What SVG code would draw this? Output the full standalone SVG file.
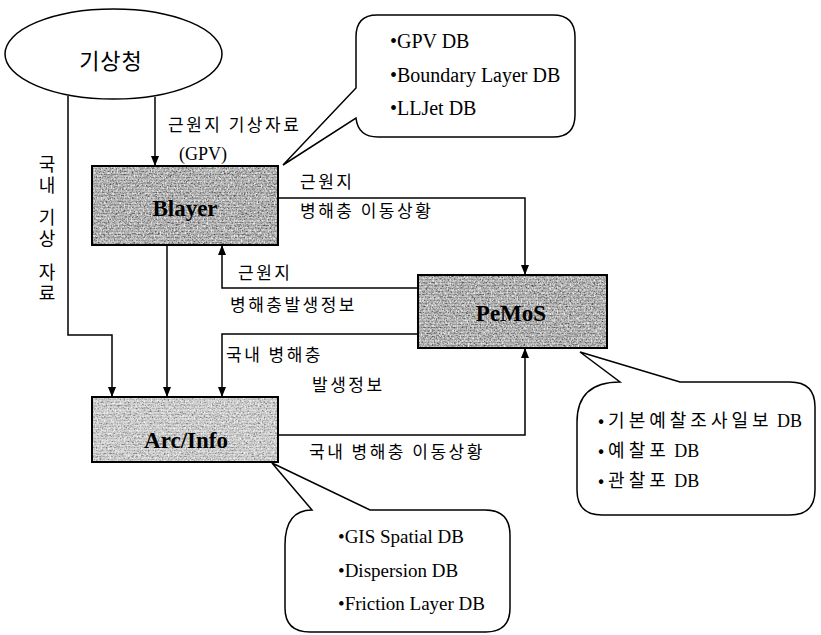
<svg xmlns="http://www.w3.org/2000/svg" width="821" height="635" viewBox="0 0 821 635">
<style>
.ln{fill:none;stroke:#000;stroke-width:1.5}
.ko{font-family:"Noto Sans CJK KR","Noto Sans",sans-serif;font-size:17px;letter-spacing:2.5px;fill:#000}
.se{font-family:"Liberation Serif","Times New Roman",serif;fill:#000}
.nd{font-family:"Liberation Serif","Times New Roman",serif;font-size:23px;font-weight:bold;text-anchor:middle;fill:#000}
.box{stroke:#000;stroke-width:2}
.bub{fill:#fff;stroke:#000;stroke-width:1.5}
.bk{font-family:"Noto Sans CJK KR",sans-serif;letter-spacing:4px}
.vt{font-family:"Noto Sans CJK KR",sans-serif;font-size:18px;letter-spacing:3px;writing-mode:tb;text-anchor:middle;fill:#000}
</style>
<defs>
<marker id="ar" markerWidth="10" markerHeight="10" refX="9" refY="5" orient="auto" markerUnits="userSpaceOnUse">
<path d="M0,1 L10,5 L0,9 Z" fill="#000"/>
</marker>
<filter id="grain" x="0" y="0" width="100%" height="100%">
<feTurbulence type="fractalNoise" baseFrequency="0.5 0.9" numOctaves="2" seed="7" result="n"/>
<feColorMatrix in="n" type="matrix" values="0 0 0 0 0  0 0 0 0 0  0 0 0 0 0  3 0 0 0 -1.45" result="a"/>
<feComposite in="a" in2="SourceAlpha" operator="in"/>
</filter>
<filter id="white" x="0" y="0" width="100%" height="100%">
<feTurbulence type="fractalNoise" baseFrequency="0.7 0.4" numOctaves="2" seed="21" result="n"/>
<feColorMatrix in="n" type="matrix" values="0 0 0 0 1  0 0 0 0 1  0 0 0 0 1  3 0 0 0 -1.4" result="a"/>
<feComposite in="a" in2="SourceAlpha" operator="in"/>
</filter>
<pattern id="stripes" width="6" height="3" patternUnits="userSpaceOnUse">
<rect width="6" height="3" fill="#b8b8b8"/>
<rect y="0" width="6" height="1" fill="#9c9c9c"/>
</pattern>
<pattern id="stripesL" width="6" height="3" patternUnits="userSpaceOnUse">
<rect width="6" height="3" fill="#d2d2d2"/>
<rect y="0" width="6" height="1" fill="#bdbdbd"/>
</pattern>
</defs>

<g id="connectors">
<path class="ln" d="M155,97 V165" marker-end="url(#ar)"/>
<path class="ln" d="M68,96 V335 H112 V396" marker-end="url(#ar)"/>
<path class="ln" d="M167,245 V396" marker-end="url(#ar)"/>
<path class="ln" d="M418,288 H222 V246" marker-end="url(#ar)"/>
<path class="ln" d="M418,334 H222 V396" marker-end="url(#ar)"/>
<path class="ln" d="M278,198 H525 V274" marker-end="url(#ar)"/>
<path class="ln" d="M278,435 H525 V349" marker-end="url(#ar)"/>
</g>

<g id="labels">
<text class="ko" x="168" y="131">근원지 기상자료</text>
<text class="se" x="203" y="160" font-size="18" text-anchor="middle">(GPV)</text>
<text class="ko" x="300" y="188">근원지</text>
<text class="ko" x="300" y="217">병해충 이동상황</text>
<text class="ko" x="238" y="279">근원지</text>
<text class="ko" x="230" y="311">병해충발생정보</text>
<text class="ko" x="226" y="361">국내 병해충</text>
<text class="ko" x="312" y="391">발생정보</text>
<text class="ko" x="309" y="458">국내 병해충 이동상황</text>
<text class="vt" x="47" y="176">국내</text>
<text class="vt" x="47" y="229">기상</text>
<text class="vt" x="47" y="284">자료</text>
</g>

<g id="kma">
<ellipse cx="113.5" cy="54" rx="108.5" ry="45" fill="#fff" stroke="#000" stroke-width="1.5"/>
<text x="111" y="69" text-anchor="middle" font-family="Noto Sans CJK KR,sans-serif" font-size="22" letter-spacing="1">기상청</text>
</g>

<g id="blayer">
<rect class="box" x="92" y="166" width="186" height="79" fill="url(#stripes)"/>
<rect x="92" y="166" width="186" height="79" fill="#000" filter="url(#grain)" opacity="0.55"/>
<rect x="92" y="166" width="186" height="79" fill="#000" filter="url(#white)" opacity="0.8"/>
<rect class="box" x="92" y="166" width="186" height="79" fill="none"/>
<text class="nd" x="185" y="216">Blayer</text>
</g>

<g id="pemos">
<rect class="box" x="418" y="275" width="189" height="73" fill="url(#stripes)"/>
<rect x="418" y="275" width="189" height="73" fill="#000" filter="url(#grain)" opacity="0.55"/>
<rect x="418" y="275" width="189" height="73" fill="#000" filter="url(#white)" opacity="0.8"/>
<rect class="box" x="418" y="275" width="189" height="73" fill="none"/>
<text class="nd" x="511" y="321">PeMoS</text>
</g>

<g id="arcinfo">
<rect class="box" x="92" y="397" width="186" height="65" fill="url(#stripesL)"/>
<rect x="92" y="397" width="186" height="65" fill="#000" filter="url(#grain)" opacity="0.4"/>
<rect x="92" y="397" width="186" height="65" fill="#000" filter="url(#white)" opacity="0.8"/>
<rect class="box" x="92" y="397" width="186" height="65" fill="none"/>
<text class="nd" x="186" y="448">Arc/Info</text>
</g>

<g id="callout-blayer">
<path class="bub" d="M377,15 H553 Q575,15 575,37 V115 Q575,137 553,137 H378 Q358,137 356,118 L283,165 L356,88 V37 Q356,15 377,15 Z"/>
<text class="se" font-size="20" x="390" y="48">•GPV DB</text>
<text class="se" font-size="20" x="390" y="82">•Boundary Layer DB</text>
<text class="se" font-size="20" x="390" y="115">•LLJet DB</text>
</g>

<g id="callout-pemos">
<path class="bub" d="M577,422 Q577,382 620,382 L580,352 L680,382 H790 Q815,382 815,407 V490 Q815,515 790,515 H602 Q577,515 577,490 Z"/>
<text class="se" font-size="18" x="598" y="427"><tspan class="bk">•기본예찰조사일보</tspan> DB</text>
<text class="se" font-size="18" x="598" y="457"><tspan class="bk">•예찰포</tspan> DB</text>
<text class="se" font-size="18" x="598" y="487"><tspan class="bk">•관찰포</tspan> DB</text>
</g>

<g id="callout-arcinfo">
<path class="bub" d="M285,545 Q285,510 312,510 L272,463 L370,510 H485 Q510,510 510,535 V608 Q510,632 486,632 H310 Q285,632 285,608 Z"/>
<text class="se" font-size="19" x="338" y="543">•GIS Spatial DB</text>
<text class="se" font-size="19" x="338" y="577">•Dispersion DB</text>
<text class="se" font-size="19" x="338" y="610">•Friction Layer DB</text>
</g>
</svg>
